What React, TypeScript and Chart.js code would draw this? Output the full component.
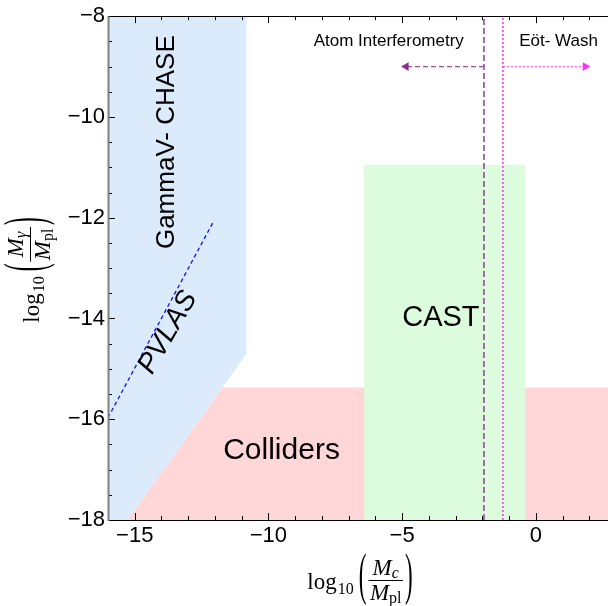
import React, { useEffect, useRef } from "react";
import { Chart, registerables } from "chart.js";

Chart.register(...registerables);

// ---------- axis ranges & ticks ----------
const xMin = -16;
const xMax = 2.7;
const yMin = -18;
const yMax = -8;
const xMajorTicks = [-15, -10, -5, 0];
const xMinorTicks = [-16, -14, -13, -12, -11, -9, -8, -7, -6, -4, -3, -2, -1, 1, 2];
const yMajorTicks = [-18, -16, -14, -12, -10, -8];
const yMinorTicks = [-17.5, -17, -16.5, -15.5, -15, -14.5, -13.5, -13, -12.5, -11.5, -11, -10.5, -9.5, -9, -8.5];

// ---------- excluded regions (polygon vertices) ----------
const gammaVX = [-16.5, -10.82, -10.82, -15.27, -16.5, -16.5];
const gammaVY = [-8, -8, -14.7, -18, -18, -8];
const collidersX = [-15.27, -11.72, 3, 3, -15.27];
const collidersY = [-18, -15.37, -15.37, -18, -18];
const castX = [-6.42, -0.39, -0.39, -6.42, -6.42];
const castY = [-18, -18, -10.95, -10.95, -18];

// PVLAS dashed line
const pvlasX = [-16, -12.06];
const pvlasY = [-15.97, -12.08];

// vertical limits and arrows
const atomLimitX = -1.94;
const eotWashLimitX = -1.23;
const atomArrowX = [-1.94, -4.85];
const eotArrowX = [-1.23, 1.85];
const arrowY = -9;

// ---------- labels ----------
const labelTexts = ["GammaV- CHASE", "PVLAS", "CAST", "Colliders", "Atom Interferometry", "Eöt- Wash"];
const labelX = [-13.81, -13.76, -3.55, -9.51, -5.5, 0.85];
const labelY = [-10.5, -14.28, -14.0, -16.63, -8.5, -8.5];

const SANS = '"Liberation Sans", Arial, sans-serif';
const SERIF = '"Liberation Serif", "DejaVu Serif", serif';

const zip = (xs: number[], ys: number[]) => xs.map((x, i) => ({ x, y: ys[i] }));

function drawLogFrac(ctx: CanvasRenderingContext2D, cx: number, cy: number, angle: number, numSub: string) {
  ctx.save();
  ctx.translate(cx, cy);
  ctx.rotate(angle);
  ctx.fillStyle = "#000";
  ctx.strokeStyle = "#000";
  ctx.textBaseline = "alphabetic";
  ctx.textAlign = "left";
  const main = 23;
  const sub = 16;
  ctx.font = `${main}px ${SERIF}`;
  const wLog = ctx.measureText("log").width;
  ctx.font = `${sub}px ${SERIF}`;
  const w10 = ctx.measureText("10").width;
  ctx.font = `italic ${main}px ${SERIF}`;
  const wM = ctx.measureText("M").width;
  ctx.font = `italic ${sub}px ${SERIF}`;
  const wNs = ctx.measureText(numSub).width;
  ctx.font = `${sub}px ${SERIF}`;
  const wPl = ctx.measureText("pl").width;
  ctx.font = `${main}px ${SERIF}`;
  const wPar = ctx.measureText("(").width;
  const wNum = wM + wNs;
  const wDen = wM + wPl;
  const wFrac = Math.max(wNum, wDen) + 3;
  const total = wLog + 1 + w10 + 5 + wPar + 2 + wFrac + 2 + wPar;
  let x = -total / 2;
  ctx.font = `${main}px ${SERIF}`;
  ctx.fillText("log", x, 9);
  x += wLog + 1;
  ctx.font = `${sub}px ${SERIF}`;
  ctx.fillText("10", x, 14);
  x += w10 + 5;
  const s = 2.45;
  ctx.save();
  ctx.translate(x, 0);
  ctx.scale(1, s);
  ctx.font = `${main}px ${SERIF}`;
  ctx.fillText("(", 0, 0.235 * main);
  ctx.restore();
  x += wPar + 2;
  const fx = x + wFrac / 2;
  const numBase = numSub === "γ" ? -7 : -5;
  const nx = fx - wNum / 2;
  ctx.font = `italic ${main}px ${SERIF}`;
  ctx.fillText("M", nx, numBase);
  ctx.font = `italic ${sub}px ${SERIF}`;
  ctx.fillText(numSub, nx + wM, numBase + 3);
  const dx = fx - wDen / 2;
  ctx.font = `italic ${main}px ${SERIF}`;
  ctx.fillText("M", dx, 20);
  ctx.font = `${sub}px ${SERIF}`;
  ctx.fillText("pl", dx + wM, 23);
  ctx.lineWidth = 1;
  ctx.beginPath();
  ctx.moveTo(x, 0.5);
  ctx.lineTo(x + wFrac, 0.5);
  ctx.stroke();
  x += wFrac + 2;
  ctx.save();
  ctx.translate(x, 0);
  ctx.scale(1, s);
  ctx.font = `${main}px ${SERIF}`;
  ctx.fillText(")", 0, 0.235 * main);
  ctx.restore();
  ctx.restore();
}

const framePlugin = {
  id: "frameTicks",
  afterDatasetsDraw(chart: any) {
    const { ctx, chartArea: a, scales } = chart;
    const xs = scales.x;
    const ys = scales.y;
    ctx.save();
    ctx.strokeStyle = "#000";
    ctx.lineWidth = 1;
    const tick = (x1: number, y1: number, x2: number, y2: number) => {
      ctx.beginPath();
      ctx.moveTo(x1, y1);
      ctx.lineTo(x2, y2);
      ctx.stroke();
    };
    for (const v of xMajorTicks) {
      const p = Math.round(xs.getPixelForValue(v)) + 0.5;
      tick(p, a.bottom, p, a.bottom - 7);
      tick(p, a.top, p, a.top + 7);
    }
    for (const v of xMinorTicks) {
      const p = Math.round(xs.getPixelForValue(v)) + 0.5;
      tick(p, a.bottom, p, a.bottom - 4);
      tick(p, a.top, p, a.top + 4);
    }
    for (const v of yMajorTicks) {
      const p = Math.round(ys.getPixelForValue(v)) + 0.5;
      tick(a.left, p, a.left + 7, p);
    }
    for (const v of yMinorTicks) {
      const p = Math.round(ys.getPixelForValue(v)) + 0.5;
      tick(a.left, p, a.left + 4, p);
    }
    tick(a.left, Math.round(a.top) + 0.5, a.right, Math.round(a.top) + 0.5);
    tick(a.left, Math.round(a.bottom) + 0.5, a.right, Math.round(a.bottom) + 0.5);
    ctx.strokeStyle = "#808080";
    ctx.lineWidth = 2;
    tick(a.left + 0.5, a.top, a.left + 0.5, a.bottom + 1);
    ctx.restore();
  },
  afterDraw(chart: any) {
    const { ctx, chartArea: a, scales } = chart;
    const xs = scales.x;
    const ys = scales.y;
    ctx.save();
    ctx.fillStyle = "#000";
    ctx.textAlign = "center";
    ctx.textBaseline = "middle";
    const styles = [
      { size: 26, italic: false, rot: -90 },
      { size: 28, italic: true, rot: -60 },
      { size: 29, italic: false, rot: 0 },
      { size: 30, italic: false, rot: 0 },
      { size: 17, italic: false, rot: 0 },
      { size: 17, italic: false, rot: 0 },
    ];
    labelTexts.forEach((t, i) => {
      const st = styles[i];
      ctx.save();
      ctx.translate(xs.getPixelForValue(labelX[i]), ys.getPixelForValue(labelY[i]));
      ctx.rotate((st.rot * Math.PI) / 180);
      ctx.font = `${st.italic ? "italic " : ""}${st.size}px ${SANS}`;
      ctx.fillText(t, 0, 0);
      ctx.restore();
    });
    ctx.restore();
    drawLogFrac(ctx, 360, a.bottom + 60, 0, "c");
    drawLogFrac(ctx, a.left - 78, (a.top + a.bottom) / 2 + 2, -Math.PI / 2, "γ");
  },
};

export default function App() {
  const ref = useRef<HTMLCanvasElement | null>(null);
  useEffect(() => {
    document.body.style.margin = "0";
    const canvas = ref.current;
    if (!canvas) return;
    const poly = (xs: number[], ys: number[], color: string, order: number) => ({
      type: "scatter" as const,
      data: zip(xs, ys),
      showLine: true,
      fill: "shape",
      backgroundColor: color,
      borderColor: "rgba(0,0,0,0)",
      borderWidth: 0,
      pointRadius: 0,
      order,
    });
    const chart = new Chart(canvas, {
      type: "scatter",
      data: {
        datasets: [
          poly(gammaVX, gammaVY, "#DBEBFC", 10),
          poly(collidersX, collidersY, "#FFD7D8", 9),
          poly(castX, castY, "#DDFBDD", 8),
          {
            type: "scatter",
            data: zip(pvlasX, pvlasY),
            showLine: true,
            borderColor: "#1010FF",
            borderWidth: 1.3,
            borderDash: [4, 3],
            pointRadius: 0,
            order: 2,
          } as any,
          {
            type: "scatter",
            data: [{ x: atomLimitX, y: yMin }, { x: atomLimitX, y: yMax }],
            showLine: true,
            borderColor: "#8A3C96",
            borderWidth: 1.5,
            borderDash: [6, 3],
            pointRadius: 0,
            order: 1,
          } as any,
          {
            type: "scatter",
            data: [{ x: eotWashLimitX, y: yMin }, { x: eotWashLimitX, y: yMax }],
            showLine: true,
            borderColor: "#FF2BFF",
            borderWidth: 1.5,
            borderDash: [2, 2],
            pointRadius: 0,
            order: 1,
          } as any,
          {
            type: "scatter",
            data: zip(atomArrowX, [arrowY, arrowY]),
            showLine: true,
            borderColor: "#9B4AA5",
            borderWidth: 1.3,
            borderDash: [5, 3],
            pointRadius: [0, 5],
            pointStyle: "triangle",
            rotation: [0, -90],
            pointBackgroundColor: "#8A2C90",
            pointBorderColor: "#8A2C90",
            pointBorderWidth: 0,
            order: 1,
          } as any,
          {
            type: "scatter",
            data: zip(eotArrowX, [arrowY, arrowY]),
            showLine: true,
            borderColor: "#FF5CFF",
            borderWidth: 1.3,
            borderDash: [2, 2],
            pointRadius: [0, 5],
            pointStyle: "triangle",
            rotation: [0, 90],
            pointBackgroundColor: "#FF2BFF",
            pointBorderColor: "#FF2BFF",
            pointBorderWidth: 0,
            order: 1,
          } as any,
        ],
      },
      options: {
        responsive: false,
        animation: false,
        events: [],
        layout: { autoPadding: false, padding: { top: 15, right: 0, left: 0, bottom: 0 } },
        plugins: {
          legend: { display: false },
          tooltip: { enabled: false },
        },
        scales: {
          x: {
            type: "linear",
            min: xMin,
            max: xMax,
            grid: { display: false, drawTicks: false },
            border: { display: false },
            afterBuildTicks: (s: any) => {
              s.ticks = xMajorTicks.map((v) => ({ value: v }));
            },
            afterFit: (s: any) => {
              s.height = 86;
            },
            ticks: {
              padding: 3,
              color: "#000",
              font: { family: SANS, size: 22 },
              callback: (v: any) => String(v).replace("-", "\u2212"),
            },
          },
          y: {
            type: "linear",
            min: yMin,
            max: yMax,
            grid: { display: false, drawTicks: false },
            border: { display: false },
            afterBuildTicks: (s: any) => {
              s.ticks = yMajorTicks.map((v) => ({ value: v }));
            },
            afterFit: (s: any) => {
              s.width = 108;
            },
            ticks: {
              padding: 3,
              color: "#000",
              font: { family: SANS, size: 22 },
              callback: (v: any) => String(v).replace("-", "\u2212"),
            },
          },
        },
      } as any,
      plugins: [framePlugin],
    });
    return () => chart.destroy();
  }, []);
  return (
    <div style={{ width: 608, height: 606 }}>
      <canvas ref={ref} width={608} height={606} />
    </div>
  );
}
